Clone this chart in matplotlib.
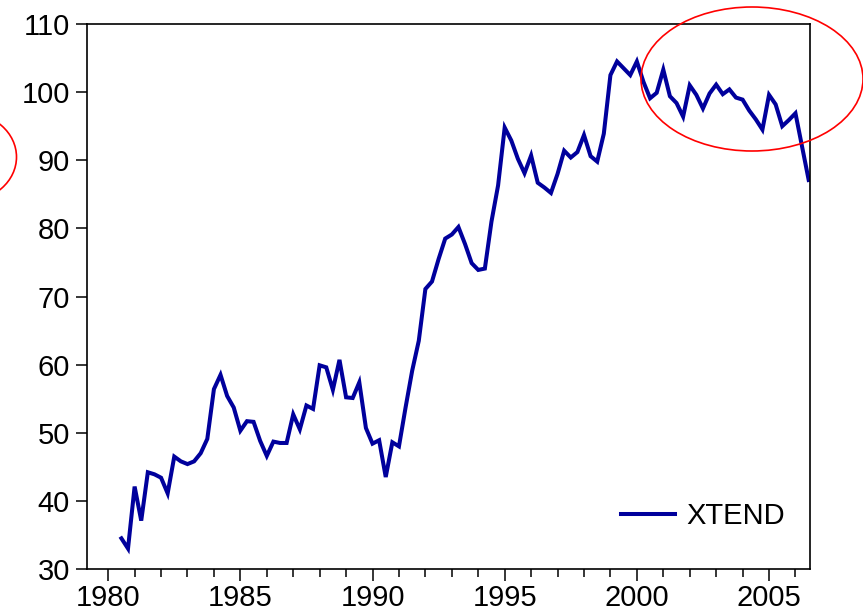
import numpy as np
import pandas as pd
import matplotlib
matplotlib.use("Agg")
import matplotlib.pyplot as plt
from matplotlib.patches import Ellipse
from matplotlib.ticker import MultipleLocator

plt.rcParams['font.family'] = ['Liberation Sans', 'DejaVu Sans']

# serie trimestrielle XTEND, 1980Q3 -> 2006Q3
start_q = '1980Q3'
end_q = '2006Q3'
xtend = [
    34.5, 33.0,
    42.1, 37.1, 44.2, 43.9,
    43.4, 41.1, 46.5, 45.8,
    45.4, 45.8, 47.0, 49.1,
    56.4, 58.5, 55.4, 53.7,
    50.3, 51.7, 51.6, 48.8,
    46.6, 48.7, 48.5, 48.5,
    52.7, 50.5, 54.0, 53.5,
    59.9, 59.6, 56.3, 60.7,
    55.2, 55.1, 57.4, 50.7,
    48.4, 48.9, 43.5, 48.6,
    48.0, 53.7, 59.1, 63.5,
    71.1, 72.2, 75.5, 78.5,
    79.1, 80.2, 77.7, 74.9,
    73.9, 74.1, 81.0, 86.3,
    94.8, 92.9, 90.2, 88.1,
    90.7, 86.7, 86.0, 85.2,
    88.0, 91.4, 90.4, 91.2,
    93.7, 90.6, 89.8, 93.9,
    102.5, 104.5, 103.5, 102.5,
    104.5, 101.5, 99.1, 99.9,
    103.3, 99.4, 98.4, 96.4,
    101.0, 99.6, 97.6, 99.8,
    101.1, 99.7, 100.4, 99.2,
    98.9, 97.3, 96.0, 94.5,
    99.6, 98.2, 95.0, 95.9,
    96.9, 92.0, 87.1,
]
x_ticks = [1980, 1985, 1990, 1995, 2000, 2005]
y_ticks = [30, 40, 50, 60, 70, 80, 90, 100, 110]

periods = pd.period_range(start_q, end_q, freq='Q')
t = periods.year + (periods.quarter - 1) / 4.0

W, H = 863, 616
fig = plt.figure(figsize=(W / 100, H / 100), dpi=100)
ax = fig.add_axes([87.3 / W, 1 - 569 / H, (810 - 87.3) / W, (569 - 24) / H])

ax.plot(t, xtend, color='#00009C', lw=2.9, solid_joinstyle='miter', label='XTEND')

ax.set_xlim(1979.21, 2006.55)
ax.set_ylim(30, 110)
ax.set_xticks(x_ticks)
ax.set_yticks(y_ticks)
ax.xaxis.set_minor_locator(MultipleLocator(1))
ax.tick_params(axis='both', which='major', direction='out', width=1.1,
               labelsize=21, top=False, right=False)
ax.tick_params(axis='x', which='major', length=8.6, pad=2)
ax.tick_params(axis='y', which='major', length=7.6, pad=5)
ax.tick_params(axis='x', which='minor', direction='out', length=5.5, width=1.1,
               top=False)
ax.tick_params(axis='y', which='minor', left=False, right=False)
for s in ax.spines.values():
    s.set_linewidth(1.2)
    s.set_color('black')

leg = ax.legend(loc='center left', bbox_to_anchor=(0.738, 0.097), frameon=False,
                fontsize=21, handlelength=1.85, handletextpad=0.4,
                borderpad=0, borderaxespad=0)

# cercles rouges (annotations)
def ellipse_px(cx, cy, w, h):
    e = Ellipse((cx / W, 1 - cy / H), w / W, h / H, transform=fig.transFigure,
                fill=False, edgecolor='red', lw=1.2, clip_on=False)
    fig.add_artist(e)

ellipse_px(752, 79, 222, 144)
ellipse_px(-34, 157, 101, 76 / 0.86)

fig.savefig('out.png', dpi=100)
